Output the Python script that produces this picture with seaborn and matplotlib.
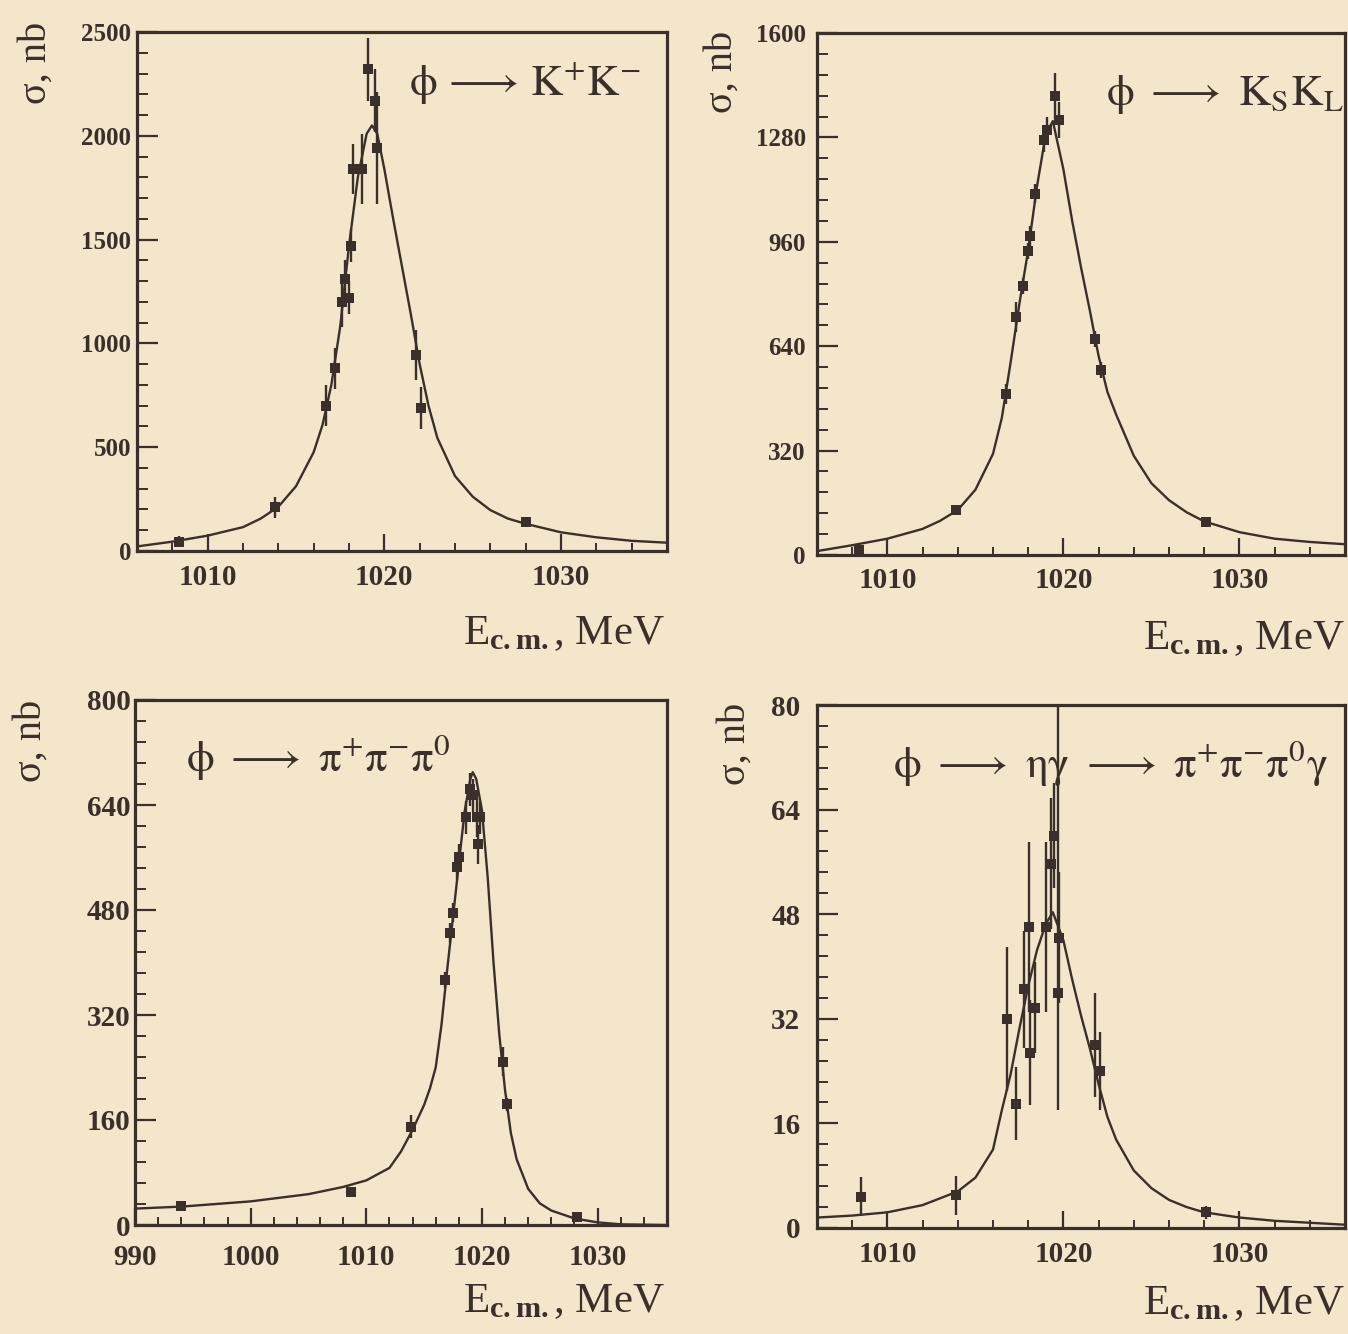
import numpy as np
import pandas as pd
import matplotlib
matplotlib.use("Agg")
import matplotlib.pyplot as plt
import seaborn as sns
from matplotlib.ticker import MultipleLocator

# ---------------- data ----------------
# phi -> K+K-
kk_E = [1008.4, 1013.8, 1016.7, 1017.2, 1017.6, 1017.8, 1018.0, 1018.1, 1018.25, 1018.75,
        1019.1, 1019.45, 1019.6, 1021.8, 1022.1, 1028.0]
kk_sig = [45, 210, 700, 880, 1200, 1310, 1220, 1470, 1840, 1840, 2320, 2170, 1940, 945, 690, 140]
kk_err = [25, 50, 100, 100, 120, 90, 80, 80, 120, 170, 150, 150, 270, 120, 100, 15]
kk_fit_E = [1006, 1008, 1010, 1012, 1013, 1014, 1015, 1016, 1016.5, 1017, 1017.5, 1018, 1018.5,
            1019, 1019.3, 1019.6, 1020, 1020.5, 1021, 1021.5, 1022, 1022.5, 1023, 1024, 1025,
            1026, 1027, 1028, 1030, 1032, 1034, 1036]
kk_fit_sig = [22, 45, 74, 115, 156, 213, 312, 476, 607, 800, 1080, 1470, 1800, 2010, 2050, 2010,
              1840, 1600, 1370, 1140, 900, 700, 545, 361, 262, 197, 156, 131, 90, 66, 49, 40]

# phi -> KsKl
kskl_E = [1008.4, 1013.9, 1016.75, 1017.3, 1017.7, 1018.0, 1018.1, 1018.4, 1018.9, 1019.05,
          1019.5, 1019.75, 1021.8, 1022.15, 1028.1]
kskl_sig = [15, 137, 494, 730, 824, 932, 977, 1108, 1271, 1302, 1407, 1334, 662, 567, 100]
kskl_err = [10, 15, 30, 45, 25, 25, 30, 30, 35, 40, 70, 55, 25, 25, 10]
kskl_fit_E = [1006, 1008, 1010, 1012, 1013, 1014, 1015, 1016, 1016.5, 1017, 1017.5, 1018, 1018.5,
              1019, 1019.4, 1020, 1020.5, 1021, 1021.5, 1022, 1022.5, 1023, 1024, 1025, 1026,
              1027, 1028, 1030, 1032, 1034, 1036]
kskl_fit_sig = [12, 30, 50, 80, 105, 138, 200, 310, 420, 590, 770, 935, 1130, 1290, 1330, 1182,
                1024, 882, 750, 610, 500, 430, 304, 220, 168, 131, 103, 70, 50, 40, 33]

# phi -> pi+ pi- pi0
ppp_E = [994.0, 1008.7, 1013.9, 1016.8, 1017.2, 1017.5, 1017.85, 1018.05, 1018.65, 1018.95,
         1019.2, 1019.55, 1019.65, 1019.85, 1021.8, 1022.15, 1028.2]
ppp_sig = [29, 50, 150, 373, 445, 476, 545, 561, 621, 664, 655, 621, 580, 621, 249, 184, 12]
ppp_err = [4, 6, 18, 12, 15, 15, 20, 20, 25, 25, 25, 30, 30, 25, 22, 10, 3]
ppp_fit_E = [990, 994, 1000, 1005, 1008, 1010, 1012, 1013, 1014, 1015, 1015.5, 1016, 1016.5,
             1017, 1017.5, 1018, 1018.5, 1019, 1019.2, 1019.5, 1020, 1020.5, 1021, 1021.5,
             1022, 1022.5, 1023, 1024, 1025, 1026, 1028, 1030, 1032, 1036]
ppp_fit_sig = [25, 28, 36, 47, 58, 68, 87, 112, 145, 183, 208, 240, 305, 390, 470, 550, 630, 680,
               690, 680, 632, 529, 400, 290, 205, 140, 100, 55, 33, 22, 10, 4, 1, 0]

# phi -> eta gamma -> pi+ pi- pi0 gamma
eg_E = [1008.5, 1013.9, 1016.8, 1017.3, 1017.75, 1018.05, 1018.1, 1018.4, 1019.0, 1019.3,
        1019.45, 1019.7, 1019.75, 1021.8, 1022.1, 1028.1]
eg_sig = [4.8, 5.0, 32, 19, 36.5, 46, 26.8, 33.7, 46, 55.7, 60, 36, 44.4, 28, 24, 2.4]
eg_err_lo = [3, 3, 11, 5.6, 9, 13, 8, 7, 13, 10, 8, 18, 10, 8, 6, 1]
eg_err_hi = [3, 3, 11, 5.6, 9, 13, 8, 7, 13, 10, 8, 44, 10, 8, 6, 1]
eg_fit_E = [1006, 1008, 1010, 1012, 1014, 1015, 1016, 1016.5, 1017, 1017.5, 1018, 1018.5, 1019,
            1019.4, 1020, 1020.5, 1021, 1021.5, 1022, 1022.5, 1023, 1024, 1025, 1026, 1027,
            1028, 1030, 1032, 1034, 1036]
eg_fit_sig = [1.6, 1.9, 2.4, 3.5, 5.6, 7.7, 12, 18, 23.5, 30.5, 37, 42.5, 46.5, 48.3, 44, 38,
              32.5, 27.5, 22, 17, 13.5, 8.8, 6.1, 4.3, 3.2, 2.4, 1.6, 1.1, 0.8, 0.5]

titles = [r"$\mathrm{\phi\,\longrightarrow\,K^{+}K^{-}}$",
          r"$\mathrm{\phi\ \longrightarrow\ K_{S}K_{L}}$",
          r"$\mathrm{\phi\ \longrightarrow\ \pi^{+}\pi^{-}\pi^{0}}$",
          r"$\mathrm{\phi\ \longrightarrow\ \eta\gamma\ \longrightarrow\ \pi^{+}\pi^{-}\pi^{0}\gamma}$"]
ylabel_text = "σ, nb"
xlabel_text = r"$\mathrm{E}_{\mathbf{c.m.}}$, MeV"

# ---------------- style ----------------
BG = "#f3e6cb"
INK = "#3a2f2a"
sns.set_theme(style="ticks")
plt.rcParams["font.family"] = ["Liberation Serif", "DejaVu Serif"]
plt.rcParams["mathtext.fontset"] = "custom"
plt.rcParams["mathtext.rm"] = "Liberation Serif"
plt.rcParams["mathtext.it"] = "Liberation Serif"
plt.rcParams["mathtext.bf"] = "Liberation Serif:bold"
plt.rcParams["text.color"] = INK
plt.rcParams["axes.edgecolor"] = INK

W, H = 1348, 1334
fig = plt.figure(figsize=(W / 100, H / 100), dpi=100, facecolor=BG)


def box(l, t, r, b):
    return [l / W, 1 - b / H, (r - l) / W, (b - t) / H]


panels = [
    dict(pos=box(137, 32, 667, 551), E=kk_E, s=kk_sig, lo=kk_err, hi=kk_err,
         fE=kk_fit_E, fs=kk_fit_sig, xlim=(1006, 1036), ylim=(0, 2500), ymaj=500, ymin=100,
         xmaj=10, xmin=2, title=titles[0], tpos=(0.95, 0.878), tha="right",
         ylab=(-0.19, 1.02), xlab=(0.996, -0.18), yfs=18, xfs=21, ypad=4, xpad=9),
    dict(pos=box(817, 33, 1345, 555), E=kskl_E, s=kskl_sig, lo=kskl_err, hi=kskl_err,
         fE=kskl_fit_E, fs=kskl_fit_sig, xlim=(1006, 1036), ylim=(0, 1600), ymaj=320, ymin=64,
         xmaj=10, xmin=2, title=titles[1], tpos=(0.997, 0.862), tha="right",
         ylab=(-0.18, 1.005), xlab=(1.0, -0.18), yfs=18, xfs=21, ypad=8, xpad=9),
    dict(pos=box(135, 700, 667, 1225), E=ppp_E, s=ppp_sig, lo=ppp_err, hi=ppp_err,
         fE=ppp_fit_E, fs=ppp_fit_sig, xlim=(990, 1036), ylim=(0, 800), ymaj=160, ymin=32,
         xmaj=10, xmin=2, title=titles[2], tpos=(0.095, 0.865), tha="left",
         ylab=(-0.195, 1.0), xlab=(0.996, -0.165), yfs=21, xfs=21, ypad=3, xpad=14),
    dict(pos=box(817, 705, 1345, 1228), E=eg_E, s=eg_sig, lo=eg_err_lo, hi=eg_err_hi,
         fE=eg_fit_E, fs=eg_fit_sig, xlim=(1006, 1036), ylim=(0, 80), ymaj=16, ymin=3.2,
         xmaj=10, xmin=2, title=titles[3], tpos=(0.968, 0.862), tha="right",
         ylab=(-0.155, 1.005), xlab=(1.0, -0.165), yfs=21, xfs=21, ypad=12, xpad=9),
]

for p in panels:
    ax = fig.add_axes(p["pos"])
    ax.set_facecolor(BG)
    fit_df = pd.DataFrame({"E": p["fE"], "sigma": p["fs"]})
    pts_df = pd.DataFrame({"E": p["E"], "sigma": p["s"]})
    sns.lineplot(data=fit_df, x="E", y="sigma", ax=ax, color=INK, lw=1.7,
                 sort=False, estimator=None)
    ax.errorbar(p["E"], p["s"], yerr=[p["lo"], p["hi"]], fmt="none", ecolor=INK,
                elinewidth=1.7, capsize=0)
    sns.scatterplot(data=pts_df, x="E", y="sigma", ax=ax, marker="s", s=42,
                    color=INK, edgecolor=INK, linewidth=0, zorder=5)
    ax.set_xlim(*p["xlim"])
    ax.set_ylim(*p["ylim"])
    ax.set_xlabel("")
    ax.set_ylabel("")
    for sp in ax.spines.values():
        sp.set_linewidth(2.3)
        sp.set_color(INK)
    ax.xaxis.set_major_locator(MultipleLocator(p["xmaj"]))
    ax.xaxis.set_minor_locator(MultipleLocator(p["xmin"]))
    ax.yaxis.set_major_locator(MultipleLocator(p["ymaj"]))
    ax.yaxis.set_minor_locator(MultipleLocator(p["ymin"]))
    ax.tick_params(axis="x", which="major", direction="in", length=12, width=1.6,
                   color=INK, pad=p["xpad"], labelsize=p["xfs"], labelcolor=INK)
    ax.tick_params(axis="x", which="minor", direction="in", length=6, width=1.4, color=INK)
    ax.tick_params(axis="y", which="major", direction="in", length=15, width=1.6,
                   color=INK, pad=p["ypad"], labelsize=p["yfs"], labelcolor=INK)
    ax.tick_params(axis="y", which="minor", direction="in", length=8, width=1.4, color=INK)
    for lab in ax.get_xticklabels() + ax.get_yticklabels():
        lab.set_fontweight("bold")
    ax.yaxis.set_major_formatter(matplotlib.ticker.FuncFormatter(lambda v, _: f"{v:g}"))
    ax.text(p["tpos"][0], p["tpos"][1], p["title"], transform=ax.transAxes,
            ha=p["tha"], va="baseline", fontsize=32, color=INK, math_fontfamily="stix")
    ax.text(p["ylab"][0], p["ylab"][1], ylabel_text, transform=ax.transAxes,
            ha="center", va="top", rotation=90, fontsize=29, color=INK)
    ax.text(p["xlab"][0], p["xlab"][1], xlabel_text, transform=ax.transAxes,
            ha="right", va="baseline", fontsize=31, color=INK)

fig.savefig("out.png", dpi=100, facecolor=BG)
